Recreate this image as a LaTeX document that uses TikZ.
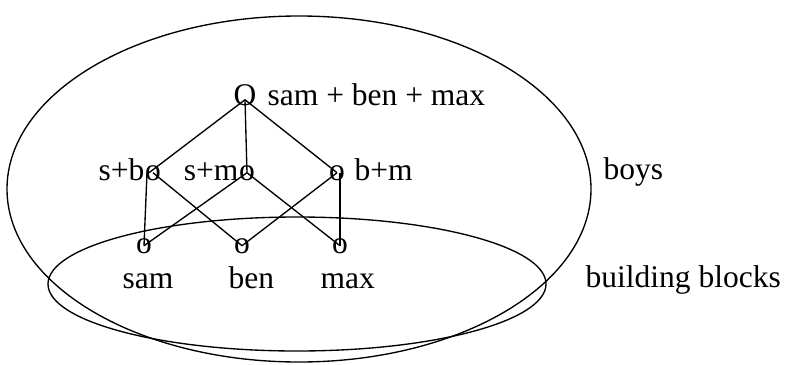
\documentclass[tikz,border=0pt]{standalone}
\usepackage{fontspec}
\setmainfont{Liberation Serif}
\begin{document}
\begin{tikzpicture}[x=1pt,y=-1pt, line width=1.35pt,
  txt/.style={inner sep=0pt, font=\fontsize{31.5}{36}\selectfont},
  lbl/.style={txt, anchor=base west},
  dot/.style={txt, anchor=base}]
\useasboundingbox (0,0) rectangle (786,364);
% sets
\draw (299,189) ellipse [x radius=292, y radius=173];
\draw (297,284) ellipse [x radius=249, y radius=67];
% top element
\node[dot] (top) at (245,105) {O};
\node[lbl] (toplbl) at (267,105) {sam + ben + max};
% middle row
\node[txt, anchor=base east] (sblbl) at (145,180) {s+b};
\node[dot] (sb) at (153,180) {o};
\node[txt, anchor=base east] (smlbl) at (239,180) {s+m};
\node[dot] (sm) at (247,180) {o};
\node[dot] (bm) at (337,180) {o};
\node[lbl] (bmlbl) at (354,180) {b+m};
% bottom row
\node[dot] (sam) at (144,253) {o};
\node[dot] (ben) at (242,253) {o};
\node[dot] (max) at (340,253) {o};
\node[lbl] (samlbl) at (122,288) {sam};
\node[lbl] (benlbl) at (228,288) {ben};
\node[lbl] (maxlbl) at (320,288) {max};
% set labels
\node[lbl] (boys) at (603,179) {boys};
\node[lbl] (blocks) at (585,287) {building blocks};
% lattice lines
\draw ([yshift=-5pt]top.center) -- ([xshift=-4pt]sb.center);
\draw ([yshift=-5pt]top.center) -- (sm.center);
\draw ([yshift=-5pt]top.center) -- (bm.center);
\draw ([xshift=-6pt]sb.center) -- (sam.center);
\draw (sb.center) -- (ben.center);
\draw (sm.center) -- (sam.center);
\draw (sm.center) -- (max.center);
\draw (bm.center) -- (ben.center);
\draw ([xshift=3pt]bm.center) -- (max.center);
\end{tikzpicture}
\end{document}
